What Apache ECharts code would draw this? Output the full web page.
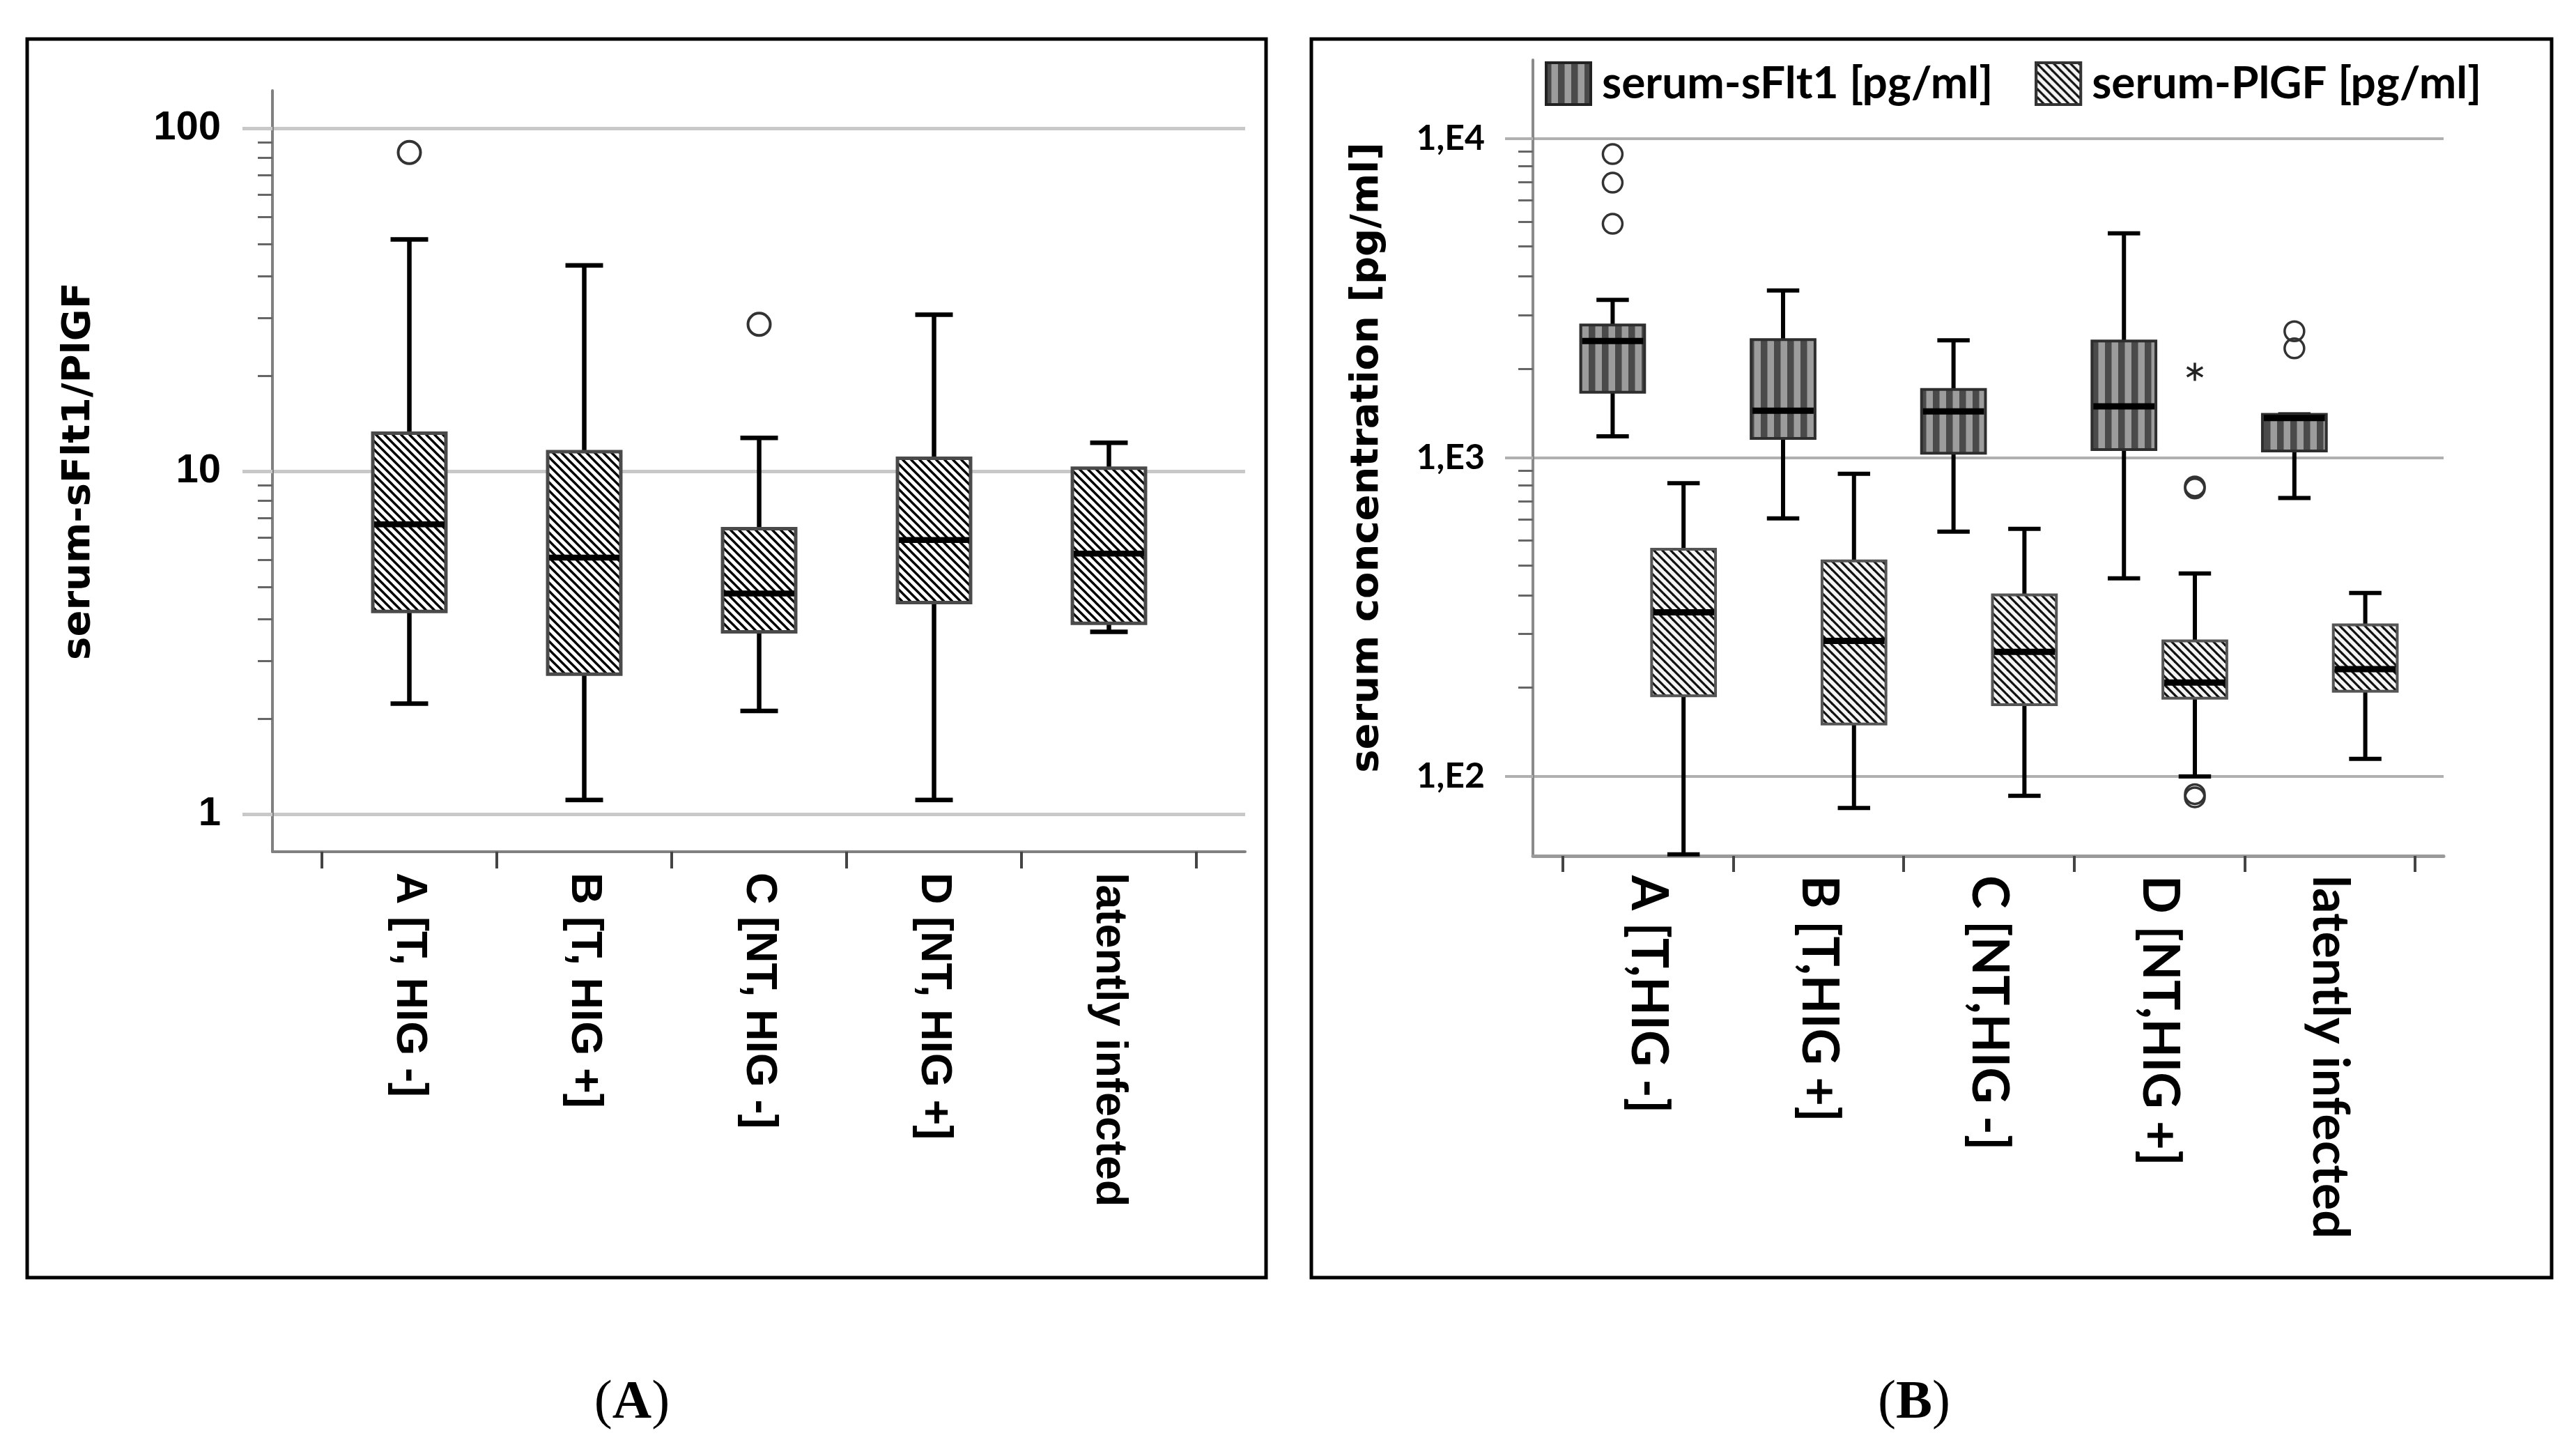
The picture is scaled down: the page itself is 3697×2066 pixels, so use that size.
<!DOCTYPE html>
<html>
<head>
<meta charset="utf-8">
<script src="https://cdn.jsdelivr.net/npm/echarts@6.0.0/dist/echarts.min.js"></script>
<style>
html,body{margin:0;padding:0;background:#fff;}
#c{width:3697px;height:2066px;}
</style>
</head>
<body>
<div id="c"></div>
<script>
// ---------------- data ----------------
const catsA = ['A [T, HIG -]', 'B [T, HIG +]', 'C [NT, HIG -]', 'D [NT, HIG +]', 'latently infected'];
const catsB = ['A [T,HIG -]', 'B [T,HIG +]', 'C [NT,HIG -]', 'D [NT,HIG +]', 'latently infected'];

// panel A: serum-sFlt1/PlGF ratio, [min, Q1, median, Q3, max]
const ratioBoxes = [
  [2.1, 3.9, 7.0, 12.9, 47.4],
  [1.1, 2.56, 5.6, 11.4, 39.8],
  [2.0, 3.4, 4.4, 6.8, 12.5],
  [1.1, 4.14, 6.3, 10.9, 28.6],
  [3.4, 3.6, 5.75, 10.2, 12.1]
];
const ratioOutliers = [[0, 85], [2, 26.8]];
const ratioTicks = [1, 10, 100];

// panel B: serum concentrations [pg/ml], [min, Q1, median, Q3, max]
const sflt1Boxes = [
  [1166, 1602, 2320, 2606, 3121],
  [645, 1148, 1403, 2345, 3343],
  [586, 1032, 1396, 1636, 2332],
  [418, 1060, 1448, 2320, 5051],
  [747, 1049, 1331, 1366, 1366]
];
const sflt1Outliers = [[0, 8950], [0, 7280], [0, 5410], [4, 2490], [4, 2200]];
const plgfBoxes = [
  [57, 179, 327, 516, 831],
  [79.6, 146, 266, 474, 890],
  [87, 168, 246, 371, 598],
  [100, 176, 197, 266, 433],
  [113.6, 185, 217, 299, 376]
];
const plgfOutliers = [[3, 812], [3, 800], [3, 88], [3, 86]];
const plgfExtremes = [[3, 1858]];
const concTicks = [100, 1000, 10000];

// ---------------- fill patterns ----------------
function hatchCanvas(T, lw, bg, fg) {
  const c = document.createElement('canvas');
  c.width = T; c.height = T;
  const g = c.getContext('2d');
  g.fillStyle = bg; g.fillRect(0, 0, T, T);
  g.strokeStyle = fg; g.lineWidth = lw;
  for (let k = -1; k <= 1; k++) {
    g.beginPath();
    g.moveTo(-T, -T + k * T);
    g.lineTo(2 * T, 2 * T + k * T);
    g.stroke();
  }
  return c;
}
function stripeCanvas(w, dark, light) {
  const c = document.createElement('canvas');
  c.width = w; c.height = 4;
  const g = c.getContext('2d');
  g.fillStyle = light; g.fillRect(0, 0, w, 4);
  g.fillStyle = dark; g.fillRect(0, 0, w / 2, 4);
  return c;
}
const hatchA = hatchCanvas(12, 3.4, '#ffffff', '#000000');
const hatchB = hatchCanvas(12, 3.2, '#f4f4f4', '#111111');
const stripes = stripeCanvas(19, '#4a4a4a', '#9c9c9c');

function legendIcon(kind) {
  const c = document.createElement('canvas');
  c.width = 77; c.height = 64;
  const g = c.getContext('2d');
  g.fillStyle = g.createPattern(kind === 's' ? stripes : hatchB, 'repeat');
  g.fillRect(2, 2, 64, 60);
  g.strokeStyle = kind === 's' ? '#222' : '#333';
  g.lineWidth = 4;
  g.strokeRect(2, 2, 64, 60);
  return 'image://' + c.toDataURL('image/png');
}

// ---------------- renderers ----------------
function boxRenderer(o) {
  return function (params, api) {
    const cat = api.value(0);
    const band = api.size([1, 0])[0];
    const cx = api.coord([cat, api.value(3)])[0] + o.offset * band;
    const y = [1, 2, 3, 4, 5].map(i => api.coord([cat, api.value(i)])[1]);
    const yMin = y[0], yQ1 = y[1], yMed = y[2], yQ3 = y[3], yMax = y[4];
    const hw = o.boxW * band / 2, cw = o.capW * band / 2;
    const line = (x1, y1, x2, y2, w, c) => ({ type: 'line', shape: { x1, y1, x2, y2 }, style: { stroke: c, lineWidth: w } });
    return {
      type: 'group',
      children: [
        line(cx, yQ3, cx, yMax, o.whiskerW, '#000'),
        line(cx - cw, yMax, cx + cw, yMax, o.whiskerW, '#000'),
        line(cx, yQ1, cx, yMin, o.whiskerW, '#000'),
        line(cx - cw, yMin, cx + cw, yMin, o.whiskerW, '#000'),
        { type: 'rect', shape: { x: cx - hw, y: yQ3, width: 2 * hw, height: yQ1 - yQ3 },
          style: { fill: o.fill, stroke: o.border, lineWidth: o.borderW } },
        line(cx - hw + 2, yMed, cx + hw - 2, yMed, o.medianW, '#000')
      ]
    };
  };
}
function pointRenderer(o) {
  return function (params, api) {
    const cat = api.value(0);
    const band = api.size([1, 0])[0];
    const p = api.coord([cat, api.value(1)]);
    const cx = p[0] + o.offset * band, cy = p[1];
    if (o.star) {
      const r = 13, ch = [];
      for (let k = 0; k < 3; k++) {
        const a = Math.PI / 2 + k * Math.PI / 3;
        ch.push({ type: 'line', shape: { x1: cx - r * Math.cos(a), y1: cy - r * Math.sin(a), x2: cx + r * Math.cos(a), y2: cy + r * Math.sin(a) },
          style: { stroke: '#222', lineWidth: 3.5 } });
      }
      return { type: 'group', children: ch };
    }
    return { type: 'circle', shape: { cx, cy, r: o.r }, style: { fill: 'rgba(0,0,0,0)', stroke: '#333', lineWidth: o.lw } };
  };
}

// ---------------- chart ----------------
const chart = echarts.init(document.getElementById('c'), null, { renderer: 'canvas', width: 3697, height: 2066 });

const gridBase = { containLabel: false, outerBoundsMode: 'none', show: false };
const hiddenVal = { type: 'value', min: 0, max: 1, show: false };
const frameAxisX = (col, w) => ({ type: 'value', min: 0, max: 1, position: 'bottom',
  axisLine: { show: true, onZero: false, lineStyle: { color: col, width: w } },
  axisTick: { show: false }, axisLabel: { show: false }, splitLine: { show: false } });
const frameAxisY = (col, w) => ({ type: 'value', min: 0, max: 1, position: 'left',
  axisLine: { show: true, onZero: false, lineStyle: { color: col, width: w } },
  axisTick: { show: false }, axisLabel: { show: false }, splitLine: { show: false } });

const option = {
  backgroundColor: '#ffffff',
  animation: false,
  grid: [
    // panel A
    Object.assign({ left: 391, top: 184, width: 1396, height: 984 }, gridBase),  // 0 gridlines
    Object.assign({ left: 391, top: 130, width: 1396, height: 1092 }, gridBase), // 1 axis frame
    Object.assign({ left: 462, top: 184, width: 1255, height: 984 }, gridBase),  // 2 data
    // panel B
    Object.assign({ left: 2200, top: 199, width: 1307, height: 915 }, gridBase), // 3 gridlines
    Object.assign({ left: 2200, top: 86, width: 1307, height: 1142 }, gridBase), // 4 axis frame
    Object.assign({ left: 2243, top: 199, width: 1223, height: 915 }, gridBase)  // 5 data
  ],
  xAxis: [
    Object.assign({ gridIndex: 0 }, hiddenVal),
    Object.assign({ gridIndex: 1 }, frameAxisX('#808080', 4)),
    { gridIndex: 2, type: 'category', data: catsA, offset: 54,
      axisLine: { show: false },
      axisTick: { show: true, length: 24, lineStyle: { color: '#444', width: 4 } },
      axisLabel: { interval: 0, rotate: -90, margin: 30, padding: [36, 0, 0, 0], color: '#000',
        fontFamily: 'Liberation Sans', fontWeight: 'bold', fontSize: 63 },
      splitLine: { show: false } },
    Object.assign({ gridIndex: 3 }, hiddenVal),
    Object.assign({ gridIndex: 4 }, frameAxisX('#9a9a9a', 5)),
    { gridIndex: 5, type: 'category', data: catsB, offset: 114,
      axisLine: { show: false },
      axisTick: { show: true, length: 23, lineStyle: { color: '#444', width: 4 } },
      axisLabel: { interval: 0, rotate: -90, margin: 28, padding: [26, 0, 0, 0], color: '#000',
        fontFamily: 'Lato', fontWeight: 'bold', fontSize: 72 },
      splitLine: { show: false } }
  ],
  yAxis: [
    { gridIndex: 0, type: 'log', logBase: 10, min: ratioTicks[0], max: ratioTicks[ratioTicks.length - 1], position: 'left',
      name: 'serum-sFlt1/PlGF', nameLocation: 'middle', nameRotate: 90, nameGap: 250,
      nameTextStyle: { fontFamily: 'DejaVu Sans', fontWeight: 'bold', fontSize: 56, color: '#000' },
      axisLine: { show: false },
      axisTick: { show: true, length: 43, lineStyle: { color: '#c8c8c8', width: 5 } },
      minorTick: { show: true, splitNumber: 10, length: 21, lineStyle: { color: '#666', width: 3 } },
      axisLabel: { margin: 74, padding: [26, 0, 0, 0], color: '#000', fontFamily: 'Liberation Sans', fontWeight: 'bold', fontSize: 58,
        formatter: v => String(Math.round(v)) },
      splitLine: { show: true, lineStyle: { color: '#c8c8c8', width: 5 } } },
    Object.assign({ gridIndex: 1 }, frameAxisY('#808080', 4)),
    { gridIndex: 2, type: 'log', logBase: 10, min: ratioTicks[0], max: ratioTicks[ratioTicks.length - 1], show: false },
    { gridIndex: 3, type: 'log', logBase: 10, min: concTicks[0], max: concTicks[concTicks.length - 1], position: 'left',
      name: 'serum concentration [pg/ml]', nameLocation: 'middle', nameRotate: 90, nameGap: 210,
      nameTextStyle: { fontFamily: 'DejaVu Sans', fontWeight: 'bold', fontSize: 56, color: '#000' },
      axisLine: { show: false },
      axisTick: { show: true, length: 40, lineStyle: { color: '#b0b0b0', width: 4 } },
      minorTick: { show: true, splitNumber: 10, length: 21, lineStyle: { color: '#666', width: 3 } },
      axisLabel: { margin: 69, color: '#000', fontFamily: 'Lato', fontWeight: 'bold', fontSize: 50,
        formatter: v => '1,E' + Math.round(Math.log10(v)) },
      splitLine: { show: true, lineStyle: { color: '#b0b0b0', width: 4 } } },
    Object.assign({ gridIndex: 4 }, frameAxisY('#8a8a8a', 4)),
    { gridIndex: 5, type: 'log', logBase: 10, min: concTicks[0], max: concTicks[concTicks.length - 1], show: false }
  ],
  legend: {
    left: 2217, top: 88, padding: 0, orient: 'horizontal',
    itemWidth: 77, itemHeight: 64, itemGap: 60, selectedMode: false,
    textStyle: { fontFamily: 'Lato', fontWeight: 'bold', fontSize: 64, color: '#000' },
    data: [
      { name: 'serum-sFlt1 [pg/ml]', icon: legendIcon('s') },
      { name: 'serum-PlGF [pg/ml]', icon: legendIcon('p') }
    ]
  },
  series: [
    { type: 'custom', name: 'ratio', xAxisIndex: 2, yAxisIndex: 2, z: 3,
      encode: { x: 0, y: [1, 2, 3, 4, 5] },
      renderItem: boxRenderer({ offset: 0, boxW: 0.418, capW: 0.215, whiskerW: 6.5, medianW: 8.5,
        fill: { image: hatchA, repeat: 'repeat' }, border: '#4a4a4a', borderW: 5 }),
      data: ratioBoxes.map((b, i) => [i].concat(b)) },
    { type: 'custom', name: 'ratio outliers', xAxisIndex: 2, yAxisIndex: 2, z: 4,
      encode: { x: 0, y: 1 },
      renderItem: pointRenderer({ offset: 0, r: 16, lw: 4 }),
      data: ratioOutliers },
    { type: 'custom', name: 'serum-sFlt1 [pg/ml]', xAxisIndex: 5, yAxisIndex: 5, z: 3,
      encode: { x: 0, y: [1, 2, 3, 4, 5] },
      renderItem: boxRenderer({ offset: -0.208, boxW: 0.375, capW: 0.19, whiskerW: 6, medianW: 9,
        fill: { image: stripes, repeat: 'repeat' }, border: '#2e2e2e', borderW: 4 }),
      data: sflt1Boxes.map((b, i) => [i].concat(b)) },
    { type: 'custom', name: 'serum-PlGF [pg/ml]', xAxisIndex: 5, yAxisIndex: 5, z: 3,
      encode: { x: 0, y: [1, 2, 3, 4, 5] },
      renderItem: boxRenderer({ offset: 0.208, boxW: 0.375, capW: 0.19, whiskerW: 6, medianW: 9,
        fill: { image: hatchB, repeat: 'repeat' }, border: '#555', borderW: 4 }),
      data: plgfBoxes.map((b, i) => [i].concat(b)) },
    { type: 'custom', name: 'sFlt1 outliers', xAxisIndex: 5, yAxisIndex: 5, z: 4,
      encode: { x: 0, y: 1 },
      renderItem: pointRenderer({ offset: -0.208, r: 14, lw: 3.5 }),
      data: sflt1Outliers },
    { type: 'custom', name: 'PlGF outliers', xAxisIndex: 5, yAxisIndex: 5, z: 4,
      encode: { x: 0, y: 1 },
      renderItem: pointRenderer({ offset: 0.208, r: 14, lw: 3.5 }),
      data: plgfOutliers },
    { type: 'custom', name: 'PlGF extremes', xAxisIndex: 5, yAxisIndex: 5, z: 4,
      encode: { x: 0, y: 1 },
      renderItem: pointRenderer({ offset: 0.208, star: true }),
      data: plgfExtremes }
  ],
  graphic: [
    { type: 'rect', shape: { x: 39, y: 56, width: 1778, height: 1777 }, style: { fill: 'none', stroke: '#000', lineWidth: 5 }, silent: true },
    { type: 'rect', shape: { x: 1882, y: 56, width: 1780, height: 1777 }, style: { fill: 'none', stroke: '#000', lineWidth: 5 }, silent: true },
    { type: 'text', x: 907, y: 2014, silent: true,
      style: { text: '({b|A})', textAlign: 'center', textVerticalAlign: 'middle', fill: '#000',
        fontFamily: 'Liberation Serif', fontSize: 78, rich: { b: { fontFamily: 'Liberation Serif', fontWeight: 'bold', fontSize: 78, fill: '#000' } } } },
    { type: 'text', x: 2747, y: 2014, silent: true,
      style: { text: '({b|B})', textAlign: 'center', textVerticalAlign: 'middle', fill: '#000',
        fontFamily: 'Liberation Serif', fontSize: 78, rich: { b: { fontFamily: 'Liberation Serif', fontWeight: 'bold', fontSize: 78, fill: '#000' } } } }
  ]
};
chart.setOption(option);
</script>
</body>
</html>
